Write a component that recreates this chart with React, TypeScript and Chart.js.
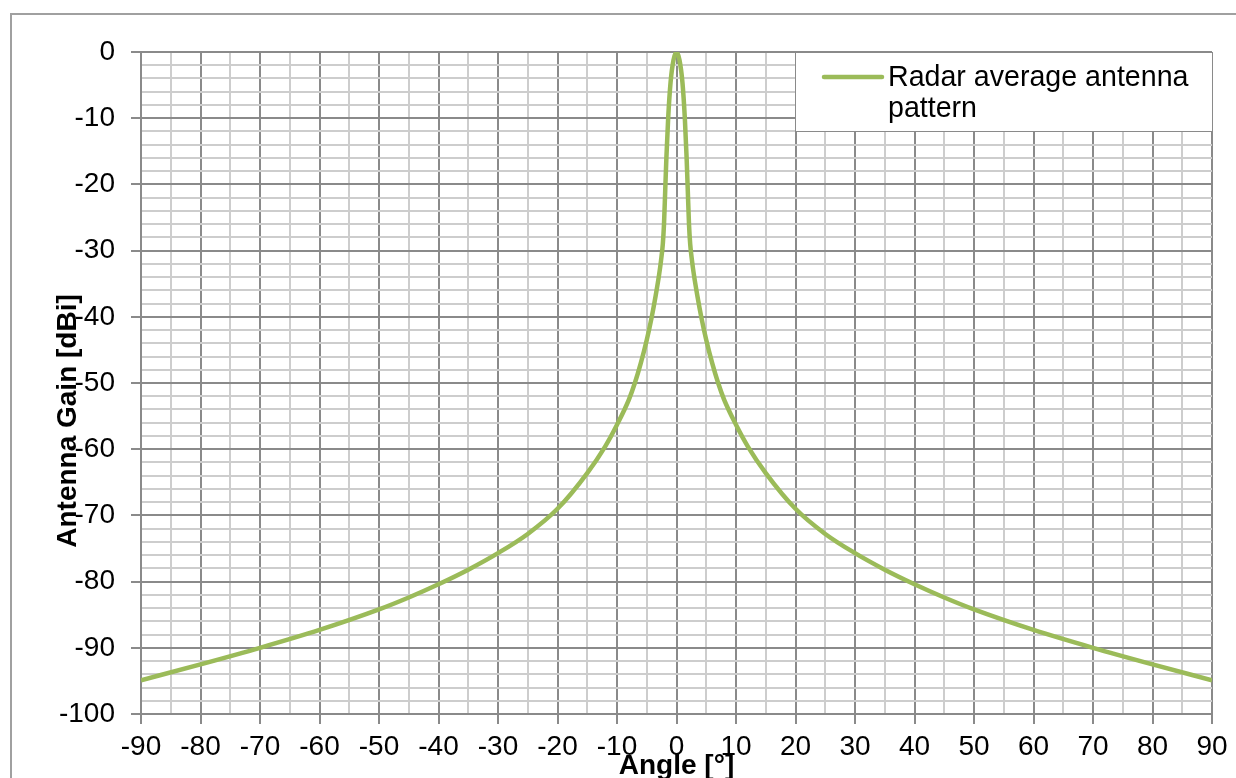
import React, { useEffect, useRef } from "react";
import { Chart, registerables } from "chart.js";

Chart.register(...registerables);

const angles = [
  -90, -80, -70, -60, -50, -45, -40, -35, -30, -25, -20, -15, -12, -10, -8, -7, -6, -5, -4.2, -3.5, -2.9, -2.6, -2.3,
  -2.1, -1.9, -1.7, -1.4, -1, -0.5, 0, 0.5, 1, 1.4, 1.7, 1.9, 2.1, 2.3, 2.6, 2.9, 3.5, 4.2, 5, 6, 7, 8, 10, 12, 15, 20, 25,
  30, 35, 40, 45, 50, 60, 70, 80, 90,
];
const gains = [
  -94.9, -92.5, -90.0, -87.3, -84.2, -82.4, -80.4, -78.2, -75.7, -72.8, -69.0, -63.6, -59.6, -56.3, -52.5, -50.0, -47.0,
  -43.5, -40.2, -36.8, -33.5, -31.5, -29.0, -26.0, -21.0, -16.0, -10.0, -4.6, -1.2, 0, -1.2, -4.6, -10.0, -16.0, -21.0,
  -26.0, -29.0, -31.5, -33.5, -36.8, -40.2, -43.5, -47.0, -50.0, -52.5, -56.3, -59.6, -63.6, -69.0, -72.8, -75.7, -78.2,
  -80.4, -82.4, -84.2, -87.3, -90.0, -92.5, -94.9,
];
const seriesLabel = ["Radar average antenna", "pattern"];
const xTitle = "Angle [°]";
const yTitle = "Antenna Gain [dBi]";

const FONT = '"Liberation Sans", Arial, sans-serif';
const MAJOR = "#8a8a8a";
const MINOR = "#cdcdcd";
const GREEN = "#9BBB59";

export default function App() {
  const ref = useRef<HTMLCanvasElement>(null);

  useEffect(() => {
    if (!ref.current) return;
    const overlay = {
      id: "overlay",
      beforeDraw(chart: any) {
        const ctx = chart.ctx;
        ctx.save();
        ctx.fillStyle = "#fff";
        ctx.fillRect(0, 0, chart.width, chart.height);
        ctx.strokeStyle = "#a0a0a0";
        ctx.lineWidth = 2;
        ctx.strokeRect(11, 14, chart.width + 50, chart.height + 50);
        ctx.restore();
      },
      afterDraw(chart: any) {
        const ctx = chart.ctx;
        const a = chart.chartArea;
        ctx.save();
        // legend box
        const lx = a.right - 417;
        const ly = a.top;
        ctx.fillStyle = "#fff";
        ctx.fillRect(lx, ly, 417, 79);
        ctx.strokeStyle = "#8a8a8a";
        ctx.lineWidth = 1;
        ctx.strokeRect(lx + 0.5, ly + 0.5, 417, 79);
        ctx.strokeStyle = GREEN;
        ctx.lineWidth = 4.5;
        ctx.lineCap = "round";
        ctx.beginPath();
        ctx.moveTo(lx + 29, ly + 25);
        ctx.lineTo(lx + 87, ly + 25);
        ctx.stroke();
        ctx.fillStyle = "#000";
        ctx.font = `28.6px ${FONT}`;
        ctx.textAlign = "left";
        ctx.textBaseline = "middle";
        ctx.fillText(seriesLabel[0], lx + 93, ly + 26);
        ctx.fillText(seriesLabel[1], lx + 93, ly + 57);
        // axis titles
        ctx.font = `bold 28px ${FONT}`;
        ctx.textAlign = "center";
        ctx.textBaseline = "alphabetic";
        ctx.fillText(xTitle, (a.left + a.right) / 2, 774);
        ctx.translate(76, 421);
        ctx.rotate(-Math.PI / 2);
        ctx.fillText(yTitle, 0, 0);
        ctx.restore();
      },
    };

    const isMajor = (v: number) => Math.abs(v % 10) < 1e-9;

    const chart = new Chart(ref.current, {
      type: "line",
      data: {
        datasets: [
          {
            label: seriesLabel.join(" "),
            data: angles.map((a, i) => ({ x: a, y: gains[i] })),
            borderColor: GREEN,
            borderWidth: 4.5,
            pointRadius: 0,
            cubicInterpolationMode: "monotone",
            fill: false,
          },
        ],
      },
      options: {
        animation: false,
        responsive: false,
        layout: { padding: { top: 52, right: 24, left: 0, bottom: 0 } },
        plugins: { legend: { display: false }, tooltip: { enabled: false } },
        scales: {
          x: {
            type: "linear",
            min: -90,
            max: 90,
            afterFit: (s: any) => {
              s.height = 64;
            },
            ticks: {
              stepSize: 5,
              autoSkip: false,
              maxRotation: 0,
              minRotation: 0,
              padding: 6,
              color: "#000",
              font: { family: FONT, size: 28 },
              callback: (v: any) => (isMajor(Number(v)) ? String(v) : ""),
            },
            grid: {
              color: (c: any) => (c.tick && isMajor(c.tick.value) ? MAJOR : MINOR),
              tickColor: (c: any) => (c.tick && isMajor(c.tick.value) ? MAJOR : "rgba(0,0,0,0)"),
              tickLength: 10,
              lineWidth: 2,
            },
            border: { color: MAJOR, width: 2 },
          },
          y: {
            type: "linear",
            min: -100,
            max: 0,
            afterFit: (s: any) => {
              s.width = 141;
            },
            ticks: {
              stepSize: 2,
              autoSkip: false,
              padding: 16,
              color: "#000",
              font: { family: FONT, size: 28 },
              callback: (v: any) => (isMajor(Number(v)) ? String(v) : ""),
            },
            grid: {
              color: (c: any) => (c.tick && isMajor(c.tick.value) ? MAJOR : MINOR),
              tickColor: (c: any) => (c.tick && isMajor(c.tick.value) ? MAJOR : "rgba(0,0,0,0)"),
              tickLength: 10,
              lineWidth: 2,
            },
            border: { color: MAJOR, width: 2 },
          },
        },
      } as any,
      plugins: [overlay],
    });
    return () => chart.destroy();
  }, []);

  return (
    <canvas
      ref={ref}
      width={1236}
      height={778}
      style={{ position: "absolute", left: 0, top: 0, display: "block" }}
    />
  );
}
